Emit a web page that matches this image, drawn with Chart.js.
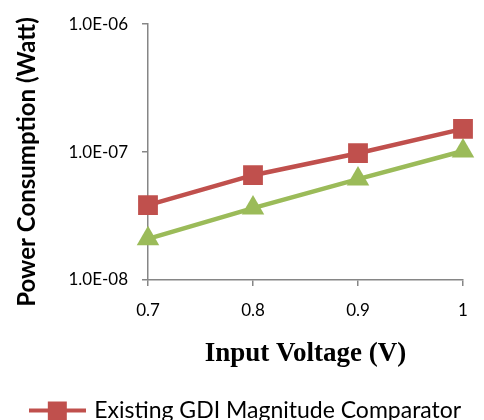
<!DOCTYPE html>
<html>
<head>
<meta charset="utf-8">
<script src="https://cdn.jsdelivr.net/npm/chart.js@4.4.1/dist/chart.umd.min.js"></script>
<style>
  html, body { margin: 0; padding: 0; background: #ffffff; overflow: hidden; }
  #frame { width: 484px; height: 420px; overflow: hidden; }
  #box { position: relative; width: 484px; height: 465px; }
</style>
</head>
<body>
<div id="frame"><div id="box"><canvas id="chart"></canvas></div></div>
<script>
// data
const voltages = ['0.7', '0.8', '0.9', '1'];
const existingPower = [3.85e-8, 6.6e-8, 9.8e-8, 1.52e-7];
const proposedPower = [2.1e-8, 3.65e-8, 6.15e-8, 1.02e-7];
const powerTicks = [1e-8, 1e-7, 1e-6];
const seriesNames = ['Existing GDI Magnitude Comparator', 'Proposed GDI Magnitude Comparator'];

const RED = '#C0504D';
const GREEN = '#9BBB59';
const AXIS = '#868686';

// format like Excel: 1.0E-07
function sciLabel(v) {
  const e = Math.round(Math.log10(v));
  const m = v / Math.pow(10, e);
  return m.toFixed(1) + 'E' + (e < 0 ? '-' : '+') + String(Math.abs(e)).padStart(2, '0');
}

// legend icon: line segment with the marker in the middle
function legendIcon(color, style) {
  const c = document.createElement('canvas');
  c.width = 58;
  c.height = 22;
  const g = c.getContext('2d');
  g.strokeStyle = color;
  g.lineWidth = 4;
  g.beginPath();
  g.moveTo(0, 11);
  g.lineTo(58, 11);
  g.stroke();
  g.fillStyle = color;
  if (style === 'rect') {
    g.fillRect(20, 2, 19, 19);
  } else {
    g.beginPath();
    g.moveTo(29, 1);
    g.lineTo(40, 21);
    g.lineTo(18, 21);
    g.closePath();
    g.fill();
  }
  return c;
}
const icons = [legendIcon(RED, 'rect'), legendIcon(GREEN, 'triangle')];

// y title is drawn by hand so it can sit where Excel put it
const yTitlePlugin = {
  id: 'yTitle',
  afterDraw(chart) {
    const ctx = chart.ctx;
    ctx.save();
    ctx.translate(27, 162);
    ctx.rotate(-Math.PI / 2);
    ctx.font = 'bold 24px Lato';
    ctx.fillStyle = '#000000';
    ctx.textAlign = 'center';
    ctx.textBaseline = 'middle';
    ctx.fillText('Power Consumption (Watt)', 0, 0);
    ctx.restore();
  }
};

const PAD_LEFT = 29;

new Chart(document.getElementById('chart'), {
  type: 'line',
  data: {
    labels: voltages,
    datasets: [
      {
        label: seriesNames[0],
        data: existingPower,
        borderColor: RED,
        backgroundColor: RED,
        borderWidth: 4.5,
        tension: 0,
        pointStyle: 'rect',
        pointRadius: 14,
        pointBorderWidth: 0
      },
      {
        label: seriesNames[1],
        data: proposedPower,
        borderColor: GREEN,
        backgroundColor: GREEN,
        borderWidth: 4.5,
        tension: 0,
        pointStyle: 'triangle',
        pointRadius: 13,
        pointBorderWidth: 0
      }
    ]
  },
  options: {
    responsive: true,
    maintainAspectRatio: false,
    animation: false,
    layout: { padding: { left: PAD_LEFT, right: 21, top: 19, bottom: 0 } },
    plugins: {
      tooltip: { enabled: false },
      legend: {
        position: 'bottom',
        labels: {
          usePointStyle: true,
          pointStyleWidth: 52,
          padding: 10,
          color: '#000000',
          font: { family: 'Lato', size: 23 },
          generateLabels(chart) {
            return chart.data.datasets.map((ds, i) => ({
              text: ds.label,
              pointStyle: icons[i],
              fillStyle: ds.borderColor,
              strokeStyle: ds.borderColor,
              lineWidth: 0,
              hidden: false,
              datasetIndex: i
            }));
          }
        }
      }
    },
    scales: {
      x: {
        type: 'category',
        offset: false,
        border: { color: AXIS, width: 1.5 },
        grid: { drawOnChartArea: false, drawTicks: true, tickLength: 6, color: AXIS, lineWidth: 1.5 },
        ticks: { color: '#000000', padding: 14, font: { family: 'Lato', size: 17 }, maxRotation: 0 },
        title: {
          display: true,
          text: 'Input Voltage (V)',
          color: '#000000',
          font: { family: 'Liberation Serif', size: 27, weight: 'bold' },
          padding: { top: 4, bottom: 19 }
        },
        afterFit(scale) { scale.height = 109; }
      },
      y: {
        type: 'logarithmic',
        min: 1e-8,
        max: 1e-6,
        border: { color: AXIS, width: 1.5 },
        grid: { drawOnChartArea: false, drawTicks: true, tickLength: 6, color: AXIS, lineWidth: 1.5 },
        afterBuildTicks(scale) { scale.ticks = powerTicks.map(v => ({ value: v, major: false })); },
        ticks: {
          color: '#000000',
          padding: 14,
          font: { family: 'Lato', size: 17 },
          callback: v => sciLabel(v)
        },
        afterFit(scale) { scale.width = 148 - PAD_LEFT; }
      }
    }
  },
  plugins: [yTitlePlugin]
});
</script>
</body>
</html>
